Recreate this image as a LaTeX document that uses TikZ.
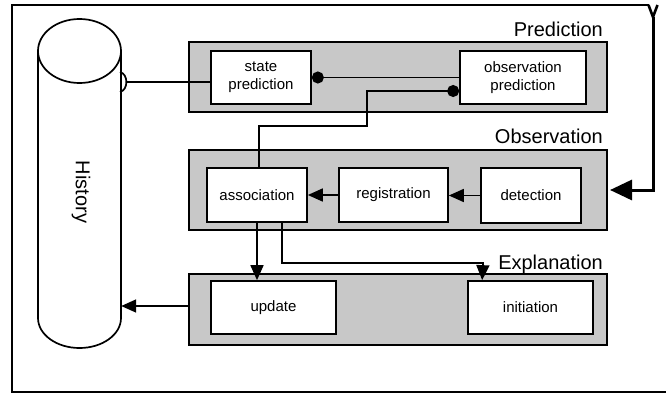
\documentclass[tikz,border=0pt]{standalone}
\usepackage{fontspec}
\setmainfont{Liberation Sans}
\usetikzlibrary{arrows.meta}
\definecolor{panelgray}{RGB}{200,200,200}
\newcommand{\boxfont}{\fontsize{15}{18}\selectfont}
\newcommand{\labfont}{\fontsize{20}{24}\selectfont}
\tikzset{
  panel/.style={draw, fill=panelgray, line width=2pt, minimum width=418pt, inner sep=0pt},
  stagebox/.style={draw, fill=white, line width=1.7pt, align=center, font=\boxfont, inner sep=0pt},
  panellabel/.style={anchor=base east, font=\labfont, inner sep=0pt},
  conn/.style={line width=1.7pt},
  arr/.style={conn, -{Triangle[length=15pt,width=13pt]}},
  dotstart/.style={conn, {Circle[length=12pt]}-},
}
\begin{document}
\begin{tikzpicture}[x=1pt,y=-1pt]
\useasboundingbox (0,0) rectangle (666,394);
% outer frame
\draw[line width=2.2pt] (649,5) -- (12,5) -- (12,392) -- (680,392);
% history cylinder
\draw[line width=1.7pt] (38,51) -- (38,318) arc[start angle=180, end angle=360, x radius=41.5pt, y radius=30pt] -- (121,51);
\draw[line width=1.7pt] (79.5,51) ellipse[x radius=41.5pt, y radius=32pt];
\node[minimum width=83pt, minimum height=267pt, inner sep=0pt] (hist) at (79.5,184.5) {};
\node[rotate=-90, font=\labfont, inner sep=0pt] (htxt) at (81,192) {History};
\draw[conn] (120,72) .. controls (128.5,74) and (128.5,90) .. (120,92);
\coordinate (harc) at (126.5,82);
% panels
\node[panel, minimum height=70pt] (pr) at (398,77) {};
\node[panel, minimum height=80pt] (ob) at (398,190) {};
\node[panel, minimum height=71pt] (ex) at (398,309.5) {};
\node[panellabel] (prl) at ([xshift=-5pt,yshift=5pt]pr.north east) {Prediction};
\node[panellabel] (obl) at ([xshift=-5pt,yshift=6pt]ob.north east) {Observation};
\node[panellabel] (exl) at ([xshift=-5pt,yshift=4pt]ex.north east) {Explanation};
% boxes
\node[stagebox, minimum width=100pt, minimum height=53pt] (sp) at (261,77.5) {state\\prediction};
\node[stagebox, minimum width=126pt, minimum height=53pt] (op) at (523,77.5) {observation\\prediction};
\node[stagebox, minimum width=100pt, minimum height=54pt] (as) at (257,195) {association};
\node[stagebox, minimum width=109pt, minimum height=54pt] (rg) at (393.5,195) {registration};
\node[stagebox, minimum width=100pt, minimum height=55pt] (dt) at (531,195.5) {detection};
\node[stagebox, minimum width=125pt, minimum height=53pt] (up) at (273.5,307.5) {update};
\node[stagebox, minimum width=125pt, minimum height=53pt] (in) at (530.5,307.5) {initiation};
% connectors
\draw[conn] (harc) -- ([yshift=-4.5pt]sp.west);
\draw[dotstart] (sp.east) -- (sp.east -| op.west);
\draw[dotstart] ([yshift=-13.5pt]op.west) -- (367,91) -- (367,126) -| ([xshift=2pt]as.north);
\draw[arr] (dt.west) -- (dt.west -| rg.east);
\draw[arr] (rg.west) -- (rg.west -| as.east);
\draw[arr] (as.south) -- (as.south |- up.north);
\draw[arr] ([xshift=25pt]as.south) -- (282,263) -- (483,263) -- ([xshift=15pt]in.north west);
\draw[arr] ([yshift=3.5pt]ex.west) -- ([yshift=3.5pt]ex.west -| hist.east);
% thick input arrow
\coordinate (src) at (653,17);
\draw[line width=2.6pt] (648.5,5) -- (src) -- (657.5,5);
\draw[line width=3pt, -{Triangle[length=22pt,width=20pt]}] (src) |- ([xshift=2pt]ob.east);
\end{tikzpicture}
\end{document}
